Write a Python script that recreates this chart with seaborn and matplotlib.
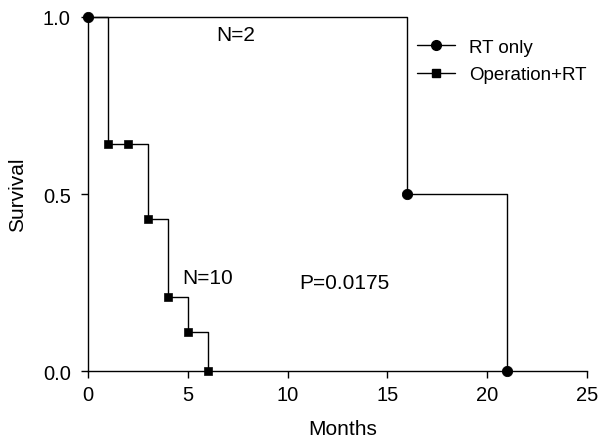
import matplotlib
matplotlib.use("Agg")
import matplotlib.pyplot as plt
import pandas as pd
import seaborn as sns
from matplotlib.lines import Line2D

# Kaplan-Meier steps
rt_months = [0, 16, 21]
rt_surv = [1.0, 0.5, 0.0]
op_months = [0, 1, 2, 3, 4, 5, 6]
op_surv = [1.0, 0.64, 0.64, 0.43, 0.21, 0.11, 0.0]

x_ticks = [0, 5, 10, 15, 20, 25]
y_ticks = [0.0, 0.5, 1.0]

rt = pd.DataFrame({"Months": rt_months, "Survival": rt_surv})
op = pd.DataFrame({"Months": op_months, "Survival": op_surv})

sns.set_theme(style="ticks", rc={"text.color": "black", "axes.labelcolor": "black"})
plt.rcParams["font.family"] = ["Liberation Sans", "DejaVu Sans"]

fig = plt.figure(figsize=(6.01, 4.39), dpi=100)
ax = fig.add_axes([0.1464, 0.1526, 0.8303, 0.8064])

sns.lineplot(data=op, x="Months", y="Survival", drawstyle="steps-post",
             color="black", linewidth=1.0, ax=ax, clip_on=False)
sns.scatterplot(data=op.iloc[1:], x="Months", y="Survival", marker="s",
                color="black", s=36, edgecolor="black", ax=ax, clip_on=False, zorder=3)
sns.lineplot(data=rt, x="Months", y="Survival", drawstyle="steps-post",
             color="black", linewidth=1.0, ax=ax, clip_on=False)
sns.scatterplot(data=rt, x="Months", y="Survival", marker="o",
                color="black", s=55, edgecolor="black", ax=ax, clip_on=False, zorder=4)

ax.set_xlim(0, 25)
ax.set_ylim(0, 1)
ax.set_xticks(x_ticks)
ax.set_yticks(y_ticks)
ax.set_yticklabels([f"{v:.1f}" for v in y_ticks])
ax.tick_params(direction="out", length=5, width=1, colors="black", labelsize=14.5)
ax.tick_params(axis="x", pad=5)
ax.tick_params(axis="y", pad=7.5)
for side in ["top", "right"]:
    ax.spines[side].set_visible(False)
for side in ["left", "bottom"]:
    ax.spines[side].set_color("black")
    ax.spines[side].set_linewidth(1)

ax.set_xlabel("Months", fontsize=15)
ax.set_ylabel("Survival", fontsize=15)
ax.xaxis.set_label_coords(0.51, -0.136)
ax.yaxis.set_label_coords(-0.122, 0.5)

ax.text(7.4, 0.95, "N=2", fontsize=15, ha="center", va="center")
ax.text(6.0, 0.265, "N=10", fontsize=15, ha="center", va="center")
ax.text(12.85, 0.249, "P=0.0175", fontsize=15, ha="center", va="center")

handles = [
    Line2D([], [], color="black", marker="o", markersize=7, linewidth=1),
    Line2D([], [], color="black", marker="s", markersize=6, linewidth=1),
]
ax.legend(handles, ["RT only", "Operation+RT"], loc="upper left",
          bbox_to_anchor=(0.649, 0.954), frameon=False, fontsize=13.5,
          handlelength=2.0, handletextpad=0.75, labelspacing=0.55,
          borderaxespad=0, borderpad=0.3)

fig.savefig("out.png", dpi=100)
